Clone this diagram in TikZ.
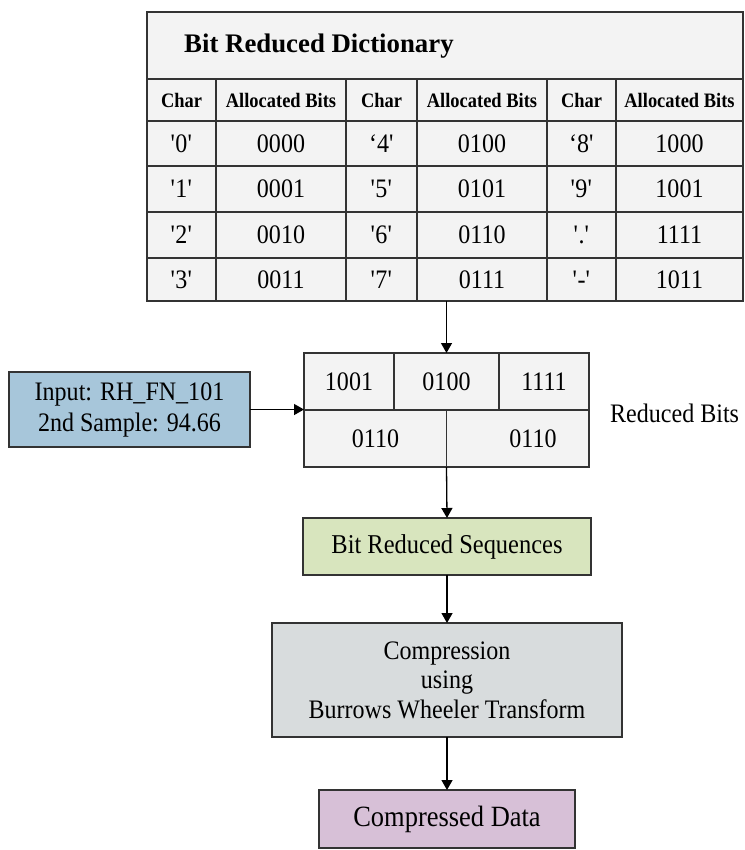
\documentclass[tikz,border=0pt]{standalone}
\usepackage{fontspec}
\setmainfont{Liberation Serif}[FakeStretch=0.9]
\newfontfamily\titlefont{Liberation Serif}
\usetikzlibrary{arrows.meta}
\definecolor{tblfill}{HTML}{F3F3F3}
\definecolor{inblue}{HTML}{A7C6DA}
\definecolor{seqgreen}{HTML}{D8E5BE}
\definecolor{bwtgray}{HTML}{D8DCDD}
\definecolor{outpurple}{HTML}{D7C0D7}
\definecolor{edgecol}{HTML}{333333}
\newcommand{\sqq}{\textquotesingle}
\newcommand{\lsq}{\textquoteleft}
\begin{document}
\begin{tikzpicture}[x=1pt,y=-1pt,
  boxst/.style={draw=edgecol, line width=1.3pt, inner sep=0pt, outer sep=0pt, align=center},
  tblst/.style={boxst, line width=1.6pt},
  cell/.style={font=\fontsize{26.7}{30}\selectfont, inner sep=0pt},
  head/.style={font=\bfseries\fontsize{20.5}{24}\selectfont, inner sep=0pt},
  arr/.style={draw=black, line width=1.3pt, -{Triangle[length=10pt,width=11pt]}},
  gridline/.style={draw=edgecol, line width=1.6pt}]

\useasboundingbox (0,0) rectangle (744,850);

% ---------------- dictionary table ----------------
\node[tblst, fill=tblfill, anchor=north west, minimum width=596pt, minimum height=289pt] (dict) at (147,12) {};
\foreach \yy in {79,121,166,212,258}
  \draw[gridline] (147,\yy) -- (743,\yy);
\foreach \xx in {216,346,417,547,616}
  \draw[gridline] (\xx,79) -- (\xx,301);

\node[anchor=west, inner sep=0pt, font=\titlefont\bfseries\fontsize{26.8}{30}\selectfont] (title) at (184,46) {Bit Reduced Dictionary};

\foreach \xx/\nm/\tx in {181.5/h1/Char, 281/h2/Allocated Bits, 381.5/h3/Char, 482/h4/Allocated Bits, 581.5/h5/Char, 679.5/h6/Allocated Bits}
  \node[head] (\nm) at (\xx,100) {\tx};

\foreach \r/\yy/\ca/\ba/\cb/\bb/\cc/\bc in {
   1/143.5/{\sqq0\sqq}/0000/{\lsq4\sqq}/0100/{\lsq8\sqq}/1000,
   2/189/{\sqq1\sqq}/0001/{\sqq5\sqq}/0101/{\sqq9\sqq}/1001,
   3/235/{\sqq2\sqq}/0010/{\sqq6\sqq}/0110/{\sqq.\sqq}/1111,
   4/279.5/{\sqq3\sqq}/0011/{\sqq7\sqq}/0111/{\sqq-\sqq}/1011}{
  \node[cell] (ca\r) at (181.5,\yy) {\ca};
  \node[cell] (ba\r) at (281,\yy) {\ba};
  \node[cell] (cb\r) at (381.5,\yy) {\cb};
  \node[cell] (bb\r) at (482,\yy) {\bb};
  \node[cell] (cc\r) at (581.5,\yy) {\cc};
  \node[cell] (bc\r) at (679.5,\yy) {\bc};
}

% ---------------- reduced bits box ----------------
\node[tblst, fill=tblfill, minimum width=285pt, minimum height=114pt] (bits) at (446.5,410) {};
\draw[gridline] (bits.west) -- (bits.east);
\draw[gridline] (394,353) -- (394,410);
\draw[gridline] (499,353) -- (499,410);
\draw[gridline] (bits.center) -- (bits.south);
\node[cell] (b1) at (349,381.5) {1001};
\node[cell] (b2) at (446.5,381.5) {0100};
\node[cell] (b3) at (544,381.5) {1111};
\node[cell] (b4) at (375.5,438.5) {0110};
\node[cell] (b5) at (533,438.5) {0110};
\node[cell, anchor=west] (rblabel) at (610,413) {Reduced Bits};

% ---------------- input ----------------
\node[boxst, fill=inblue, minimum width=241pt, minimum height=75pt, font=\fontsize{26.7}{31}\selectfont] (input) at (129.5,409.5) {Input: RH\_FN\_101\\2nd Sample: 94.66};

% ---------------- pipeline ----------------
\node[boxst, fill=seqgreen, minimum width=288pt, minimum height=57pt, font=\fontsize{27.2}{30}\selectfont] (seq) at (447,546.5) {Bit Reduced Sequences};
\node[boxst, fill=bwtgray, minimum width=350pt, minimum height=114pt, font=\fontsize{26.7}{29.5}\selectfont] (bwt) at (447,680) {Compression\\using\\Burrows Wheeler Transform};
\node[boxst, fill=outpurple, minimum width=256pt, minimum height=58pt, font=\fontsize{29.4}{32}\selectfont] (out) at (447,819) {Compressed Data};

% ---------------- connectors ----------------
\draw[arr] (dict.south -| bits.north) -- (bits.north);
\draw[arr] (input.east) -- (input.east -| bits.west);
\draw[arr] (bits.south) -- (seq.north);
\draw[arr] (seq.south) -- (bwt.north);
\draw[arr] (bwt.south) -- (out.north);
\end{tikzpicture}
\end{document}
